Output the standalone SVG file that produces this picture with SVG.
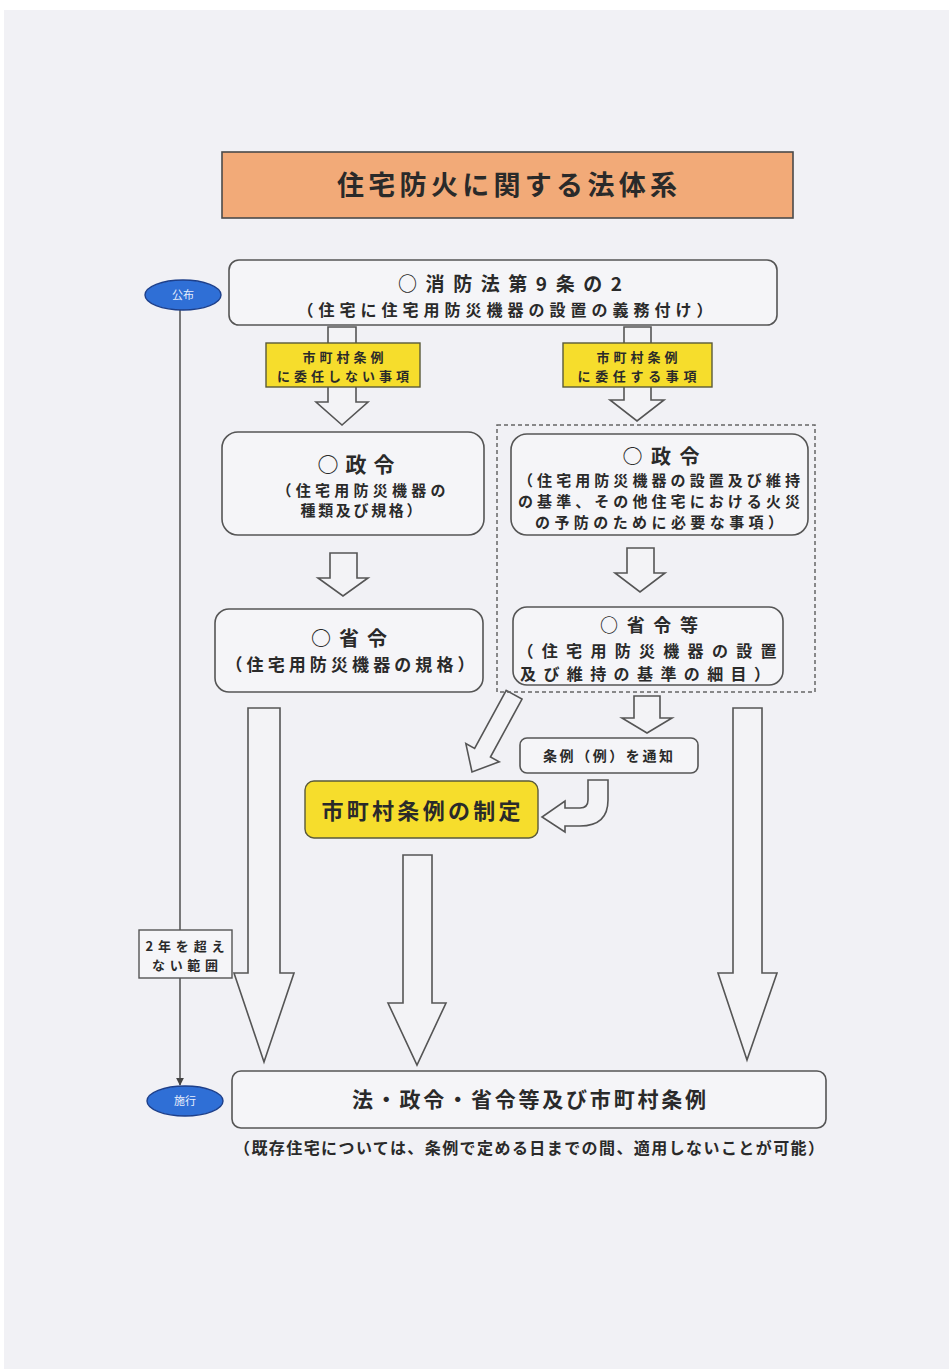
<svg xmlns="http://www.w3.org/2000/svg" width="949" height="1369" viewBox="0 0 949 1369">
<defs>
<style>
.t{font-family:"Noto Sans CJK JP","Noto Sans",sans-serif;font-weight:700;fill:#2a2a2a;text-anchor:middle}
.box{fill:#f5f5f8;stroke:#555;stroke-width:1.6}
.hol{fill:#f3f3f6;stroke:#555;stroke-width:1.6;stroke-linejoin:miter}
.yel{fill:#f6dd2c;stroke:#5a5a3a;stroke-width:1.4}
.oval{fill:#2f6fd6;stroke:#1d3f8a;stroke-width:1.4}
.ot{font-family:"Noto Sans CJK JP","Noto Sans",sans-serif;font-size:11px;fill:#e8eefc;text-anchor:middle}
</style>
<marker id="ah" viewBox="0 0 10 10" refX="9" refY="5" markerWidth="8" markerHeight="8" orient="auto" markerUnits="userSpaceOnUse"><path d="M0,0 L10,5 L0,10 Z" fill="#444"/></marker>
</defs>
<rect x="0" y="0" width="949" height="1369" fill="#ffffff"/>
<rect x="4" y="10" width="945" height="1359" fill="#f1f1f5"/>

<g id="connectors">
<line x1="180" y1="310" x2="180" y2="1085" stroke="#444" stroke-width="1.4" marker-end="url(#ah)"/>
<path class="hol" d="M328,327 L356,327 L356,402 L368,402 L342,425 L316,402 L328,402 Z"/>
<path class="hol" d="M624,327 L651,327 L651,400 L664,400 L637,421 L610,400 L624,400 Z"/>
<path class="hol" d="M330,553 L357,553 L357,578 L368,578 L343,596 L318,578 L330,578 Z"/>
<path class="hol" d="M627,548 L654,548 L654,573 L665,573 L640,592 L615,573 L627,573 Z"/>
<path class="hol" d="M634,696 L660,696 L660,718 L672,718 L647,733 L622,718 L634,718 Z"/>
<path class="hol" transform="translate(472,772) rotate(28.6)" d="M-9,-88 L9,-88 L9,-22 L19,-22 L0,0 L-19,-22 L-9,-22 Z"/>
<path class="hol" d="M608,780 L608,800 Q608,826 580,826 L565,826 L565,832 L542,817 L565,801 L565,808 L580,808 Q588,808 588,800 L588,780 Z"/>
<path class="hol" d="M248,708 L280,708 L280,973 L294,973 L264,1062 L234,973 L248,973 Z"/>
<path class="hol" d="M403,855 L432,855 L432,1003 L446,1003 L417,1065 L388,1003 L403,1003 Z"/>
<path class="hol" d="M733,708 L762,708 L762,973 L777,973 L747,1060 L718,973 L733,973 Z"/>
</g>

<g id="title">
<rect x="222" y="152" width="571" height="66" fill="#f2aa78" stroke="#4a4a4a" stroke-width="1.6"/>
<text class="t" x="507" y="195" font-size="27" textLength="340" lengthAdjust="spacing">住宅防火に関する法体系</text>
</g>

<g id="kofu">
<ellipse class="oval" cx="183" cy="295" rx="38" ry="15"/>
<text class="ot" x="183" y="299">公布</text>
</g>

<g id="shoubouhou">
<rect class="box" x="229" y="260" width="548" height="65" rx="10"/>
<text class="t" x="510" y="291" font-size="19" textLength="224" lengthAdjust="spacing">○消防法第9条の2</text>
<text class="t" x="505" y="316" font-size="16" textLength="415" lengthAdjust="spacing">（住宅に住宅用防災機器の設置の義務付け）</text>
</g>

<g id="label-left">
<rect class="yel" x="266" y="343" width="154" height="44"/>
<text class="t" x="343" y="362" font-size="13" textLength="81" lengthAdjust="spacing">市町村条例</text>
<text class="t" x="343" y="381" font-size="13" textLength="132" lengthAdjust="spacing">に委任しない事項</text>
</g>

<g id="label-right">
<rect class="yel" x="563" y="343" width="149" height="44"/>
<text class="t" x="637" y="362" font-size="13" textLength="81" lengthAdjust="spacing">市町村条例</text>
<text class="t" x="637" y="381" font-size="13" textLength="119" lengthAdjust="spacing">に委任する事項</text>
</g>

<g id="delegated-group">
<rect x="497" y="425" width="318" height="267" fill="none" stroke="#666" stroke-width="1.5" stroke-dasharray="4,3"/>
</g>

<g id="seirei-left">
<rect class="box" x="222" y="432" width="262" height="103" rx="16"/>
<text class="t" x="356" y="472" font-size="21" textLength="77" lengthAdjust="spacing">○政令</text>
<text class="t" x="361" y="496" font-size="15" textLength="169" lengthAdjust="spacing">（住宅用防災機器の</text>
<text class="t" x="361" y="516" font-size="15" textLength="121" lengthAdjust="spacing">種類及び規格）</text>
</g>

<g id="seirei-right">
<rect class="box" x="511" y="434" width="297" height="101" rx="16"/>
<text class="t" x="661" y="464" font-size="20" textLength="77" lengthAdjust="spacing">○政令</text>
<text class="t" x="659" y="486" font-size="15" textLength="282" lengthAdjust="spacing">（住宅用防災機器の設置及び維持</text>
<text class="t" x="659" y="507" font-size="15" textLength="282" lengthAdjust="spacing">の基準、その他住宅における火災</text>
<text class="t" x="659" y="528" font-size="15" textLength="248" lengthAdjust="spacing">の予防のために必要な事項）</text>
</g>

<g id="shourei-left">
<rect class="box" x="215" y="609" width="268" height="83" rx="14"/>
<text class="t" x="349" y="646" font-size="20" textLength="76" lengthAdjust="spacing">○省令</text>
<text class="t" x="350" y="671" font-size="17" textLength="249" lengthAdjust="spacing">（住宅用防災機器の規格）</text>
</g>

<g id="shourei-right">
<rect class="box" x="513" y="607" width="270" height="78" rx="14"/>
<text class="t" x="649" y="632" font-size="18" textLength="98" lengthAdjust="spacing">○省令等</text>
<text class="t" x="647" y="657" font-size="16" textLength="259" lengthAdjust="spacing">（住宅用防災機器の設置</text>
<text class="t" x="645" y="680" font-size="16" textLength="250" lengthAdjust="spacing">及び維持の基準の細目）</text>
</g>

<g id="tsuchi">
<rect class="box" x="520" y="738" width="178" height="35" rx="7"/>
<text class="t" x="608" y="761" font-size="14" textLength="130" lengthAdjust="spacing">条例（例）を通知</text>
</g>

<g id="seitei">
<rect class="yel" x="305" y="781" width="233" height="57" rx="9"/>
<text class="t" x="421" y="819" font-size="22" textLength="199" lengthAdjust="spacing">市町村条例の制定</text>
</g>

<g id="period">
<rect x="139" y="930" width="93" height="48" fill="#f5f5f8" stroke="#555" stroke-width="1.4"/>
<text class="t" x="185" y="951" font-size="13" textLength="79" lengthAdjust="spacing">2年を超え</text>
<text class="t" x="185" y="970" font-size="13" textLength="66" lengthAdjust="spacing">ない範囲</text>
</g>

<g id="shikou">
<ellipse class="oval" cx="185" cy="1101" rx="38" ry="15"/>
<text class="ot" x="185" y="1105">施行</text>
</g>

<g id="enforcement">
<rect class="box" x="232" y="1071" width="594" height="57" rx="9"/>
<text class="t" x="529" y="1107" font-size="21" textLength="354" lengthAdjust="spacing">法・政令・省令等及び市町村条例</text>
</g>

<g id="note">
<text class="t" x="529" y="1154" font-size="16" textLength="590" lengthAdjust="spacing">（既存住宅については、条例で定める日までの間、適用しないことが可能）</text>
</g>
</svg>
